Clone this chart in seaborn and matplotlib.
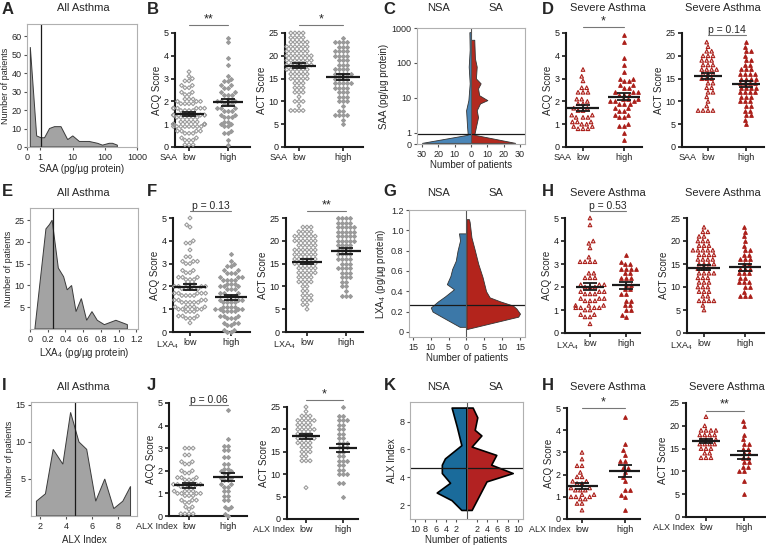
import warnings
import numpy as np
import pandas as pd
import matplotlib
matplotlib.use("Agg")
import matplotlib.pyplot as plt
import matplotlib.transforms as mtransforms
from matplotlib.ticker import NullLocator
import seaborn as sns

warnings.filterwarnings("ignore")

# ---------------- data ----------------
# A: SAA distribution, all asthma
saa_x = [0.25, 0.73, 1.05, 1.36, 1.94, 2.77, 4.4, 7.1, 10.2, 16.3, 33, 60, 85, 138, 174, 246]
saa_n = [54, 6, 5, 5, 10, 11, 11, 4, 6, 3, 3, 2, 1, 2, 2, 1]
saa_cut = 1.05

# C: SAA by NSA / SA
c_nsa_y = [0.1, 0.82, 1.5, 4.4, 8.6, 26, 78, 240, 760]
c_nsa_n = [30, 2, 2.4, 3, 1.6, 0.8, 1.4, 0.8, 1.0]
c_sa_y = [0.1, 0.82, 1.46, 2.8, 4.4, 6.9, 8.6, 11.9, 18.6, 26, 36, 78, 135, 460]
c_sa_n = [27, 2, 3, 4.3, 3.5, 5.5, 10, 5, 4.3, 5.9, 3, 3.5, 2.4, 2]

# E: LXA4 distribution, all asthma
lxa_x = [0.055, 0.18, 0.22, 0.25, 0.32, 0.38, 0.42, 0.47, 0.52, 0.58, 0.64, 0.70, 0.76, 0.84, 0.97, 1.1]
lxa_n = [0, 23, 24, 25, 14, 12, 9, 10, 4, 7, 2, 4, 2, 1, 2, 1]
lxa_cut = 0.265

# G: LXA4 by NSA / SA
g_nsa_y = [0.05, 0.15, 0.2, 0.24, 0.3, 0.35, 0.42, 0.47, 0.55, 0.62, 0.7, 0.8, 0.9, 0.97]
g_nsa_n = [1.9, 7, 9.5, 10, 8, 6, 3.5, 5.5, 4.5, 4, 3, 2.5, 1.8, 2.1]
g_sa_y = [0.03, 0.15, 0.18, 0.23, 0.26, 0.3, 0.34, 0.4, 0.54, 0.67, 0.81, 0.93, 1.08, 1.11]
g_sa_n = [0.3, 14.5, 15, 14, 13, 9.5, 6.5, 5.5, 4.5, 3.3, 2.3, 1.4, 0.9, 0.7]

# I: ALX index distribution, all asthma
alx_x = [1.7, 2.4, 3.0, 3.75, 4.35, 5.0, 5.6, 6.3, 7.0, 7.7, 8.4, 9.0]
alx_n = [2, 3, 9, 7, 14, 10, 9, 2, 5, 1, 2, 4]
alx_cut = 4.7

# K: ALX index by NSA / SA
k_nsa_y = [1.65, 2.35, 2.9, 3.6, 4.3, 4.9, 5.35, 6.3, 7.65, 9.0]
k_nsa_n = [1, 2.9, 5.8, 3.2, 4.8, 4.8, 4.2, 1, 1.9, 2.9]
k_sa_y = [1.65, 3.7, 4.3, 4.9, 5.6, 6.2, 7.0, 7.4, 8.3, 9.0]
k_sa_n = [1, 3.9, 9.0, 4.8, 5.8, 1, 2.9, 1.6, 2.1, 1.2]

# score panels: value levels and number of patients at each level
b_acq_low_v = [0.1, 0.3, 0.4, 0.6, 0.7, 0.9, 1.0, 1.1, 1.3, 1.4, 1.6, 1.7, 1.9, 2.0, 2.1, 2.3, 2.4, 2.6, 2.7, 2.9, 3.0, 3.1, 3.3]
b_acq_low_n = [3, 3, 2, 3, 4, 8, 6, 5, 6, 5, 4, 6, 4, 3, 3, 2, 2, 2, 2, 2, 1, 1, 1]
b_acq_high_v = [0.1, 0.3, 0.6, 0.7, 0.9, 1.0, 1.1, 1.3, 1.4, 1.6, 1.7, 1.9, 2.0, 2.1, 2.3, 2.4, 2.6, 2.7, 2.9, 3.0, 3.1, 3.6, 3.9, 4.6, 4.8]
b_acq_high_n = [1, 1, 2, 1, 2, 2, 2, 3, 2, 3, 3, 3, 3, 2, 3, 2, 2, 2, 2, 1, 1, 1, 1, 1, 1]
b_act_low_v = [8, 9, 10, 11, 12, 13, 14, 15, 16, 17, 18, 19, 20, 21, 22, 23, 24, 25]
b_act_low_n = [4, 1, 3, 1, 3, 3, 3, 5, 5, 6, 7, 7, 7, 6, 6, 5, 4, 4]
b_act_high_v = [5, 6, 7, 8, 9, 10, 11, 12, 13, 14, 15, 16, 17, 18, 19, 20, 21, 22, 23, 24]
b_act_high_n = [1, 1, 4, 2, 1, 3, 3, 3, 4, 5, 4, 5, 4, 3, 3, 4, 4, 3, 4, 1]

d_acq_low_v = [0.8, 0.9, 1.0, 1.1, 1.3, 1.4, 1.6, 1.7, 1.9, 2.0, 2.1, 2.4, 2.6, 2.9, 3.1, 3.4]
d_acq_low_n = [3, 2, 2, 3, 3, 2, 2, 2, 2, 1, 2, 3, 2, 1, 1, 1]
d_acq_high_v = [0.3, 0.6, 0.9, 1.0, 1.3, 1.4, 1.6, 1.7, 1.9, 2.0, 2.1, 2.3, 2.4, 2.6, 2.7, 2.9, 3.0, 3.3, 3.6, 3.9, 4.6, 4.9]
d_acq_high_n = [1, 1, 2, 1, 2, 2, 2, 2, 3, 3, 3, 3, 3, 2, 2, 2, 2, 1, 1, 1, 1, 1]
d_act_low_v = [8, 9, 10, 11, 12, 13, 14, 15, 16, 17, 18, 19, 20, 21, 22, 23]
d_act_low_n = [4, 1, 1, 1, 2, 2, 2, 3, 3, 4, 3, 3, 3, 2, 1, 1]
d_act_high_v = [5, 6, 7, 8, 9, 10, 11, 12, 13, 14, 15, 16, 17, 18, 19, 20, 21, 22, 23]
d_act_high_n = [1, 1, 2, 2, 2, 3, 3, 4, 4, 4, 4, 4, 3, 2, 2, 1, 2, 1, 1]

f_acq_low_v = [0.4, 0.6, 0.7, 0.9, 1.0, 1.1, 1.3, 1.4, 1.6, 1.7, 1.9, 2.0, 2.1, 2.3, 2.4, 2.6, 2.7, 3.0, 3.1, 3.3, 3.6, 3.9, 4.0, 4.6, 4.7, 5.0]
f_acq_low_n = [1, 3, 3, 3, 4, 5, 5, 4, 4, 5, 5, 4, 3, 3, 3, 2, 2, 2, 3, 2, 1, 2, 1, 1, 1, 1]
f_acq_high_v = [0.0, 0.1, 0.3, 0.4, 0.6, 0.7, 0.9, 1.0, 1.1, 1.3, 1.4, 1.6, 1.7, 1.9, 2.0, 2.1, 2.3, 2.4, 2.6, 2.7, 2.9, 3.0, 3.1, 3.4]
f_acq_high_n = [2, 2, 2, 3, 3, 3, 4, 4, 4, 4, 3, 3, 3, 3, 3, 3, 4, 3, 3, 2, 2, 1, 1, 1]
f_act_low_v = [5, 6, 7, 8, 9, 10, 11, 12, 13, 14, 15, 16, 17, 18, 19, 20, 21, 22, 23]
f_act_low_n = [1, 2, 3, 3, 2, 2, 4, 4, 5, 5, 6, 6, 6, 6, 5, 6, 6, 4, 3]
f_act_high_v = [8, 9, 10, 11, 12, 13, 14, 15, 16, 17, 18, 19, 20, 21, 22, 23, 24, 25]
f_act_high_n = [3, 1, 2, 2, 3, 3, 4, 3, 4, 4, 4, 4, 5, 5, 5, 5, 4, 4]

h_acq_low_v = [0.4, 0.7, 0.8, 1.0, 1.1, 1.2, 1.4, 1.5, 1.7, 1.8, 2.0, 2.1, 2.4, 2.6, 3.1, 3.3, 3.7, 3.9, 4.0, 4.7, 5.0]
h_acq_low_n = [1, 2, 2, 2, 4, 3, 3, 3, 3, 3, 3, 3, 3, 2, 4, 1, 1, 1, 1, 1, 1]
h_acq_high_v = [0.7, 0.8, 1.0, 1.2, 1.4, 1.7, 1.9, 2.1, 2.4, 2.6, 2.8, 3.0, 3.1, 3.4]
h_acq_high_n = [1, 1, 2, 2, 2, 2, 2, 2, 3, 2, 4, 2, 1, 1]
h_act_low_v = [5, 6, 7, 8, 9, 10, 11, 12, 13, 14, 15, 16, 17, 18, 19, 20, 21, 22, 23]
h_act_low_n = [1, 1, 4, 2, 3, 3, 3, 3, 4, 3, 4, 4, 4, 5, 3, 3, 2, 2, 1]
h_act_high_v = [8, 9, 10, 11, 12, 13, 14, 15, 16, 17, 18, 19, 20, 21, 22, 23]
h_act_high_n = [3, 1, 2, 3, 2, 3, 3, 2, 3, 2, 2, 1, 1, 1, 1, 1]

j_acq_low_v = [0.1, 0.3, 0.4, 0.6, 0.7, 0.9, 1.0, 1.1, 1.3, 1.4, 1.6, 1.7, 1.9, 2.0, 2.3, 2.4, 2.7, 3.0]
j_acq_low_n = [4, 1, 2, 2, 3, 3, 4, 4, 4, 4, 3, 3, 2, 2, 2, 2, 2, 3]
j_acq_high_v = [0.0, 0.1, 0.3, 0.4, 0.7, 0.9, 1.1, 1.3, 1.4, 1.6, 1.7, 1.9, 2.0, 2.1, 2.3, 2.6, 2.9, 3.1, 3.4, 4.7]
j_acq_high_n = [1, 1, 1, 2, 2, 2, 2, 2, 2, 2, 2, 2, 2, 2, 2, 2, 2, 2, 1, 1]
j_act_low_v = [7, 13, 14, 15, 16, 17, 18, 19, 20, 21, 22, 23, 24, 25]
j_act_low_n = [1, 3, 2, 3, 3, 4, 5, 4, 5, 4, 5, 3, 1, 1]
j_act_high_v = [5, 8, 10, 11, 12, 13, 14, 15, 16, 17, 18, 19, 20, 21, 22, 23, 25]
j_act_high_n = [1, 2, 3, 2, 2, 3, 2, 2, 3, 3, 2, 2, 2, 2, 3, 2, 1]

l_acq_low_v = [0.4, 0.7, 0.9, 1.0, 1.1, 1.3, 1.4, 1.6, 1.7, 1.9, 2.1, 2.4, 2.7, 3.0]
l_acq_low_n = [1, 2, 2, 3, 2, 3, 2, 2, 2, 2, 1, 2, 1, 1]
l_acq_high_v = [0.4, 1.0, 1.1, 1.3, 1.7, 1.9, 2.1, 2.3, 2.6, 2.9, 3.1, 3.4, 4.6]
l_acq_high_n = [1, 1, 1, 2, 1, 1, 1, 2, 2, 1, 1, 1, 1]
l_act_low_v = [13, 14, 15, 16, 17, 18, 19, 20, 22]
l_act_low_n = [3, 2, 3, 4, 4, 4, 4, 1, 1]
l_act_high_v = [5, 8, 10, 11, 12, 13, 14, 15, 16, 17, 18, 20, 21]
l_act_high_n = [1, 1, 2, 2, 2, 2, 2, 2, 2, 1, 1, 1, 1]

# ---------------- style ----------------
sns.set_theme(style="ticks")
plt.rcParams["font.family"] = ["Liberation Sans", "DejaVu Sans"]
plt.rcParams["mathtext.fontset"] = "custom"
plt.rcParams["mathtext.rm"] = "Liberation Sans"
plt.rcParams["mathtext.it"] = "Liberation Sans:italic"

GRAY = "#9a9a9a"
RED = "#ab1f1a"
W, H = 766, 548

fig = plt.figure(figsize=(W / 100, H / 100), dpi=100)


def rect(l, t, r, b):
    return [l / W, 1 - b / H, (r - l) / W, (b - t) / H]


def expand(v, n):
    return np.repeat(np.array(v, float), n)


def dot_panel(geom, low, high, kind, ymax, ylabel, grp, sig=None):
    l, t, r, b, xl, xh = geom
    ax = fig.add_axes(rect(l, t, r, b))
    df = pd.DataFrame({"group": ["low"] * len(low) + ["high"] * len(high),
                       "score": np.concatenate([low, high])})
    if kind == "gray":
        col, mk, ms = GRAY, "D", 2.0
    else:
        col, mk, ms = RED, "^", 2.6
    sns.swarmplot(data=df, x="group", y="score", order=["low", "high"], ax=ax,
                  color=col, marker=mk, size=ms, linewidth=0.8, warn_thresh=1)
    for c in ax.collections:
        c.set_edgecolor(col)
        c.set_clip_on(False)
    ax.collections[0].set_facecolor("none")

    # mean +/- SEM
    for i, v in enumerate([low, high]):
        m = v.mean()
        se = v.std(ddof=1) / np.sqrt(len(v))
        ax.hlines(m, i - 0.38, i + 0.38, color="k", lw=1.6, zorder=5)
        ax.errorbar(i, m, yerr=se, fmt="none", ecolor="k", elinewidth=1.3,
                    capsize=5, capthick=1.3, zorder=5)

    unit = xh - xl
    ax.set_xlim((l - xl) / unit, (r - xl) / unit)
    ax.set_ylim(0, ymax)
    step = 1 if ymax == 5 else 5
    ax.set_yticks(np.arange(0, ymax + 0.1, step))
    ax.set_xlabel("")
    ax.set_ylabel(ylabel, fontsize=7, labelpad=1)
    sns.despine(ax=ax)
    for s in ["left", "bottom"]:
        ax.spines[s].set_linewidth(1.5)
        ax.spines[s].set_color("k")
    ax.tick_params(length=3, width=1.2, pad=1.5, labelsize=6.5, colors="k")

    tr = mtransforms.offset_copy(ax.get_xaxis_transform(), fig=fig, x=-8, y=-4.5, units="points")
    ax.text(0, 0, grp, transform=tr, ha="right", va="top", fontsize=6.5)

    if sig is not None:
        y, txt = sig
        ax.plot([0, 1], [y, y], color="#777777", lw=0.8, clip_on=False)
        fs = 7.5 if txt.startswith("p") else 9
        ax.text(0.5, y, txt, ha="center", va="bottom", fontsize=fs, clip_on=False)
    return ax


def frame(ax):
    for s in ax.spines.values():
        s.set_color("#b0b0b0")
        s.set_linewidth(0.8)
    ax.tick_params(length=2.5, width=0.8, pad=1.5, labelsize=6.5, color="#555555")


def hist_panel(box, x, n, cut):
    ax = fig.add_axes(rect(*box))
    xs = np.r_[x[0], x, x[-1]]
    ys = np.r_[0, n, 0]
    ax.fill(xs, ys, facecolor="#a3a3a3", edgecolor="#3a3a3a", lw=0.7)
    ax.axvline(cut, color="k", lw=0.9)
    frame(ax)
    ax.set_ylabel("Number of patients", fontsize=6.5, labelpad=1)
    return ax


def pyramid(box, ny, nn, sy, sn, blue, red, edge, elw, cut):
    ax = fig.add_axes(rect(*box))
    ax.fill_betweenx(ny, 0, -np.array(nn), facecolor=blue, edgecolor=edge, lw=elw)
    ax.fill_betweenx(sy, 0, np.array(sn), facecolor=red, edgecolor=edge, lw=elw)
    ax.axhline(cut, color="k", lw=0.9)
    ax.axvline(0, color="#555555", lw=0.8)
    frame(ax)
    ax.set_xlabel("Number of patients", fontsize=7, labelpad=1)
    return ax


def abs_ticks(ax, ticks):
    ax.set_xticks(ticks, [str(abs(t)) for t in ticks])


# ---------------- row 1: SAA ----------------
ax = hist_panel((27, 24, 137, 147), saa_x, saa_n, saa_cut)
ax.set_xscale("symlog", linthresh=1, linscale=0.37)
ax.set_xlim(0, 1000)
ax.set_ylim(0, 66.5)
ax.set_xticks([0, 1, 10, 100, 1000], ["0", "1", "10", "100", "1000"])
ax.xaxis.set_minor_locator(NullLocator())
ax.set_yticks(range(0, 61, 10))
ax.set_xlabel("SAA (pg/µg protein)", fontsize=7, labelpad=2)

dot_panel((175, 33, 250, 147, 189, 228), expand(b_acq_low_v, b_acq_low_n),
          expand(b_acq_high_v, b_acq_high_n), "gray", 5, "ACQ Score", "SAA", (5.35, "**"))
dot_panel((285, 33, 363, 147, 299, 343), expand(b_act_low_v, b_act_low_n),
          expand(b_act_high_v, b_act_high_n), "gray", 25, "ACT Score", "SAA", (26.75, "*"))

ax = pyramid((417, 28, 525, 144), c_nsa_y, c_nsa_n, c_sa_y, c_sa_n,
             "#4a86b8", "#b22a20", "#333333", 0.6, 0.85)
ax.set_yscale("symlog", linthresh=1, linscale=0.29)
ax.set_ylim(0, 1000)
ax.set_yticks([0, 1, 10, 100, 1000], ["0", "1", "10", "100", "1000"])
ax.yaxis.set_minor_locator(NullLocator())
ax.set_xlim(-33, 33)
abs_ticks(ax, [-30, -20, -10, 0, 10, 20, 30])
ax.set_ylabel("SAA (pg/µg protein)", fontsize=7, labelpad=2)

dot_panel((566, 33, 642, 147, 583, 624), expand(d_acq_low_v, d_acq_low_n),
          expand(d_acq_high_v, d_acq_high_n), "red", 5, "ACQ Score", "SAA", (5.26, "*"))
dot_panel((682, 33, 764, 147, 708, 746), expand(d_act_low_v, d_act_low_n),
          expand(d_act_high_v, d_act_high_n), "red", 25, "ACT Score", "SAA", (24.6, "p = 0.14"))

# ---------------- row 2: LXA4 ----------------
ax = hist_panel((30, 208, 138, 329), lxa_x, lxa_n, lxa_cut)
ax.set_xlim(0, 1.22)
ax.set_ylim(0, 27.8)
ax.set_xticks([0, 0.2, 0.4, 0.6, 0.8, 1.0, 1.2], ["0", "0.2", "0.4", "0.6", "0.8", "1.0", "1.2"])
ax.set_yticks([5, 10, 15, 20, 25])
ax.set_xlabel("LXA$_4$ (pg/µg protein)", fontsize=7, labelpad=2)

dot_panel((173, 218, 250, 332, 190, 231), expand(f_acq_low_v, f_acq_low_n),
          expand(f_acq_high_v, f_acq_high_n), "gray", 5, "ACQ Score", "LXA$_4$", (5.3, "p = 0.13"))
dot_panel((286, 218, 363, 332, 307, 346), expand(f_act_low_v, f_act_low_n),
          expand(f_act_high_v, f_act_high_n), "gray", 25, "ACT Score", "LXA$_4$", (26.5, "**"))

ax = pyramid((409, 210, 525, 337), g_nsa_y, g_nsa_n, g_sa_y, g_sa_n,
             "#3c78a8", "#b3241c", "#333333", 0.6, 0.265)
ax.set_ylim(-0.05, 1.2)
ax.set_yticks([0, 0.2, 0.4, 0.6, 0.8, 1.0, 1.2], ["0", "0.2", "0.4", "0.6", "0.8", "1.0", "1.2"])
ax.set_xlim(-16.1, 16.4)
abs_ticks(ax, [-15, -10, -5, 0, 5, 10, 15])
ax.set_ylabel("LXA$_4$ (pg/µg protein)", fontsize=7, labelpad=2)

dot_panel((565, 218, 640, 333, 590, 626), expand(h_acq_low_v, h_acq_low_n),
          expand(h_acq_high_v, h_acq_high_n), "red", 5, "ACQ Score", "LXA$_4$", (5.3, "p = 0.53"))
dot_panel((687, 218, 764, 333, 704, 745), expand(h_act_low_v, h_act_low_n),
          expand(h_act_high_v, h_act_high_n), "red", 25, "ACT Score", "LXA$_4$")

# ---------------- row 3: ALX index ----------------
ax = hist_panel((31, 402, 137, 516), alx_x, alx_n, alx_cut)
ax.set_xlim(1.28, 9.5)
ax.set_ylim(0, 15.4)
ax.set_xticks([2, 4, 6, 8])
ax.set_yticks([5, 10, 15])
ax.set_xlabel("ALX Index", fontsize=7, labelpad=3)

dot_panel((169, 403, 247, 516, 189, 228), expand(j_acq_low_v, j_acq_low_n),
          expand(j_acq_high_v, j_acq_high_n), "gray", 5, "ACQ Score", "ALX Index", (4.9, "p = 0.06"))
dot_panel((287, 407, 358, 519, 306, 343), expand(j_act_low_v, j_act_low_n),
          expand(j_act_high_v, j_act_high_n), "gray", 25, "ACT Score", "ALX Index", (26.5, "*"))

ax = pyramid((410, 402, 523, 519), k_nsa_y, k_nsa_n, k_sa_y, k_sa_n,
             "#1a6b9b", "#b22222", "black", 1.2, 4.65)
ax.set_ylim(1.0, 9.4)
ax.set_yticks([2, 4, 6, 8])
ax.set_xlim(-11, 11)
abs_ticks(ax, [-10, -8, -6, -4, -2, 2, 4, 6, 8, 10])
ax.set_ylabel("ALX Index", fontsize=7, labelpad=2)

dot_panel((567, 408, 640, 519, 582, 625), expand(l_acq_low_v, l_acq_low_n),
          expand(l_acq_high_v, l_acq_high_n), "red", 5, "ACQ Score", "ALX Index", (5.0, "*"))
dot_panel((686, 403, 765, 517, 706, 744), expand(l_act_low_v, l_act_low_n),
          expand(l_act_high_v, l_act_high_n), "red", 25, "ACT Score", "ALX Index", (23.3, "**"))

# ---------------- titles and panel letters ----------------
def ftext(x, y, s, **kw):
    fig.text(x / W, 1 - y / H, s, **kw)


for y in [8, 193, 387]:
    ftext(83, y, "All Asthma", ha="center", va="center", fontsize=8)
    ftext(439, y, "NSA", ha="center", va="center", fontsize=8)
    ftext(496, y, "SA", ha="center", va="center", fontsize=8)
    ftext(608, y, "Severe Asthma", ha="center", va="center", fontsize=8)
ftext(723, 8, "Severe Asthma", ha="center", va="center", fontsize=8)
ftext(723, 193, "Severe Asthma", ha="center", va="center", fontsize=8)
ftext(727, 387, "Severe Asthma", ha="center", va="center", fontsize=8)

letters = [("A", 2, 10), ("B", 147, 10), ("C", 383, 10), ("D", 542, 10),
           ("E", 2, 192), ("F", 147, 192), ("G", 383, 192), ("H", 542, 192),
           ("I", 2, 385), ("J", 147, 385), ("K", 384, 385), ("H", 542, 385)]
for s, x, y in letters:
    ftext(x, y, s, ha="left", va="center", fontsize=12, fontweight="bold")

fig.savefig("out.png", dpi=100)
